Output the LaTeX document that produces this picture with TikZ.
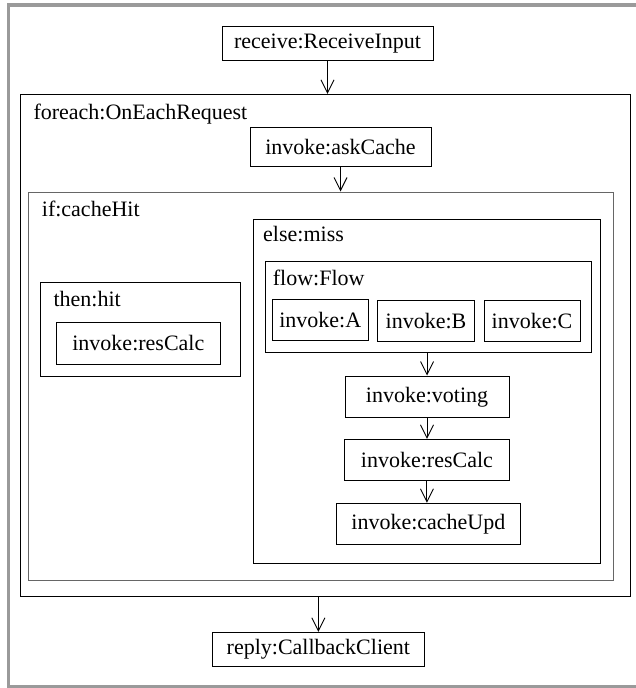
\documentclass[tikz,border=0pt]{standalone}
\usepackage{fontspec}
\setmainfont{Liberation Serif}
\usetikzlibrary{arrows.meta}
\definecolor{framegray}{HTML}{9A9A9A}
\definecolor{ifgray}{HTML}{666666}
\tikzset{
  box/.style={draw, line width=1pt, inner sep=0pt, anchor=center, font=\fontsize{22}{26}\selectfont},
  cont/.style={box},
  lbl/.style={inner sep=0pt, anchor=base west, font=\fontsize{22}{26}\selectfont},
  arr/.style={line width=0.9pt, -{Straight Barb[length=13pt, width=13pt, line width=0.9pt]}}
}
\begin{document}
\begin{tikzpicture}[x=1pt, y=-1pt]
\useasboundingbox (0,0) rectangle (636,688);
\clip (0,0) rectangle (636,688);
% outer frame
\draw[framegray, line width=3.5pt] (8.7,5) rectangle (660,686.5);
% top and bottom
\node[box, minimum width=211pt, minimum height=33.3pt] (receive) at (327.5,43.35) {receive:ReceiveInput};
\node[cont, minimum width=610pt, minimum height=502.4pt] (foreach) at (325,345.5) {};
\node[lbl] (foreachlbl) at (33.3,119) {foreach:OnEachRequest};
\node[box, minimum width=181pt, minimum height=38.3pt] (askcache) at (340.5,146.85) {invoke:askCache};
\node[cont, draw=ifgray, minimum width=584.8pt, minimum height=388.7pt] (ifbox) at (321.1,386.35) {};
\node[lbl] (iflbl) at (41.7,216.7) {if:cacheHit};
% then branch
\node[cont, minimum width=200pt, minimum height=93.3pt] (thenbox) at (140.7,329.35) {};
\node[lbl] (thenlbl) at (53.3,306.7) {then:hit};
\node[box, minimum width=164.7pt, minimum height=41.7pt] (thenres) at (138.35,343.15) {invoke:resCalc};
% else branch
\node[cont, minimum width=347pt, minimum height=344pt] (elsebox) at (426.8,391.3) {};
\node[lbl] (elselbl) at (263,241.7) {else:miss};
\node[cont, minimum width=326.3pt, minimum height=90.6pt] (flowbox) at (428.15,307) {};
\node[lbl] (flowlbl) at (272.7,285) {flow:Flow};
\node[box, minimum width=96pt, minimum height=41.4pt] (ia) at (320.3,320) {invoke:A};
\node[box, minimum width=96.6pt, minimum height=41pt] (ib) at (426,321.2) {invoke:B};
\node[box, minimum width=96pt, minimum height=41pt] (ic) at (532,321.2) {invoke:C};
\node[box, minimum width=164pt, minimum height=41.7pt] (voting) at (427,396.85) {invoke:voting};
\node[box, minimum width=164.8pt, minimum height=41.4pt] (rescalc) at (426.9,460) {invoke:resCalc};
\node[box, minimum width=184.7pt, minimum height=41pt] (cacheupd) at (428.35,523.8) {invoke:cacheUpd};
\node[box, minimum width=211.3pt, minimum height=34.4pt] (reply) at (318.35,649.5) {reply:CallbackClient};
% connectors
\draw[arr] (receive.south) -- (receive.south |- foreach.north);
\draw[arr] (askcache.south) -- (askcache.south |- ifbox.north);
\draw[arr] (voting.north |- flowbox.south) -- (voting.north);
\draw[arr] (voting.south) -- (voting.south |- rescalc.north);
\draw[arr] (rescalc.south) -- (rescalc.south |- cacheupd.north);
\draw[arr] (reply.north |- foreach.south) -- (reply.north);
\end{tikzpicture}
\end{document}
